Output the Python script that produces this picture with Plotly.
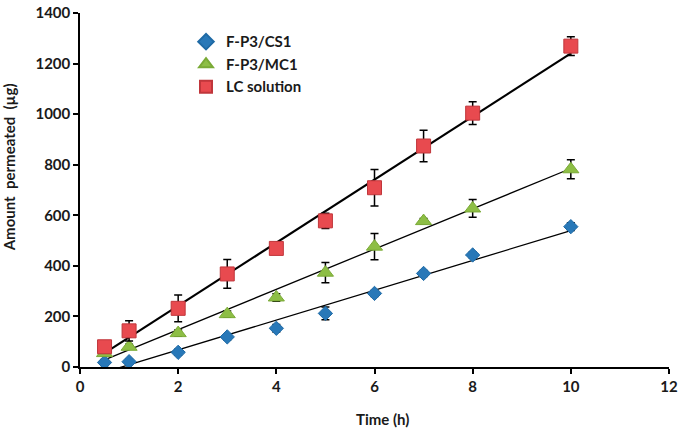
import numpy as np
import plotly.graph_objects as go

time_h = [0.5, 1, 2, 3, 4, 5, 6, 7, 8, 10]

cs1 = [18, 21, 58, 119, 153, 212, 291, 370, 443, 555]
cs1_err = [12, 10, 12, 12, 15, 25, 12, 12, 12, 15]

mc1 = [55, 80, 134, 209, 275, 373, 476, 577, 627, 782]
mc1_err = [10, 10, 12, 12, 15, 40, 52, 10, 35, 38]

lc = [80, 143, 232, 368, 469, 578, 709, 874, 1004, 1269]
lc_err = [20, 40, 53, 57, 22, 30, 72, 62, 45, 37]

series = [
    ("F-P3/CS1", cs1, cs1_err, "diamond", "#2878B8", "#1F6AA5", 11, 1.3),
    ("F-P3/MC1", mc1, mc1_err, "triangle-up", "#8DBE45", "#7AAA36", 14, 1.3),
    ("LC solution", lc, lc_err, "square", "#E84A4F", "#C0363B", 14, 2.2),
]

fig = go.Figure()
x_arr = np.array(time_h, dtype=float)
for name, y, err, sym, col, lcol, size, lw in series:
    slope, icpt = np.polyfit(x_arr, np.array(y, dtype=float), 1)
    xf = np.array([x_arr.min(), x_arr.max()])
    fig.add_trace(go.Scatter(x=xf, y=slope * xf + icpt, mode="lines",
                             line=dict(color="black", width=lw),
                             showlegend=False, hoverinfo="skip"))
for name, y, err, sym, col, lcol, size, lw in series:
    fig.add_trace(go.Scatter(
        x=time_h, y=y, mode="markers", name=name,
        marker=dict(symbol=sym, size=size, color=col, line=dict(color=lcol, width=1)),
        error_y=dict(type="data", array=err, visible=True, color="black",
                     thickness=1.5, width=4),
    ))

fig.update_layout(
    width=683, height=432,
    margin=dict(l=80, r=14, t=13, b=65),
    paper_bgcolor="white", plot_bgcolor="white",
    font=dict(family="Lato, Open Sans, sans-serif", size=14, color="#1a1a1a"),
    showlegend=True,
    legend=dict(x=0.18, y=0.965, xanchor="left", yanchor="top",
                bgcolor="rgba(0,0,0,0)", font=dict(size=15, color="#1a1a1a",
                family="Lato, sans-serif", weight="bold"),
                itemsizing="constant", tracegroupgap=0),
    xaxis=dict(range=[0, 12], tickvals=[0, 2, 4, 6, 8, 10, 12],
               showline=True, linecolor="black", linewidth=1.5,
               ticks="outside", ticklen=5, tickcolor="black", tickwidth=1.5,
               showgrid=False, zeroline=False, automargin=False,
               tickfont=dict(size=15, weight="bold")),
    yaxis=dict(range=[0, 1400], tickvals=list(range(0, 1401, 200)),
               showline=True, linecolor="black", linewidth=1.5,
               ticks="outside", ticklen=5, tickcolor="black", tickwidth=1.5,
               showgrid=False, zeroline=False, automargin=False,
               tickfont=dict(size=15, weight="bold")),
    annotations=[
        dict(text="Time (h)", xref="paper", yref="paper", x=0.514, y=-0.147,
             xanchor="center", yanchor="middle", showarrow=False,
             font=dict(size=15, weight="bold")),
        dict(text="Amount  permeated  (µg)", xref="paper", yref="paper", x=-0.12, y=0.565,
             xanchor="center", yanchor="middle", showarrow=False, textangle=-90,
             font=dict(size=15, weight="bold")),
    ],
)

fig.write_html("out.html", config={"displayModeBar": False},
               post_script="document.body.style.margin='0';")
